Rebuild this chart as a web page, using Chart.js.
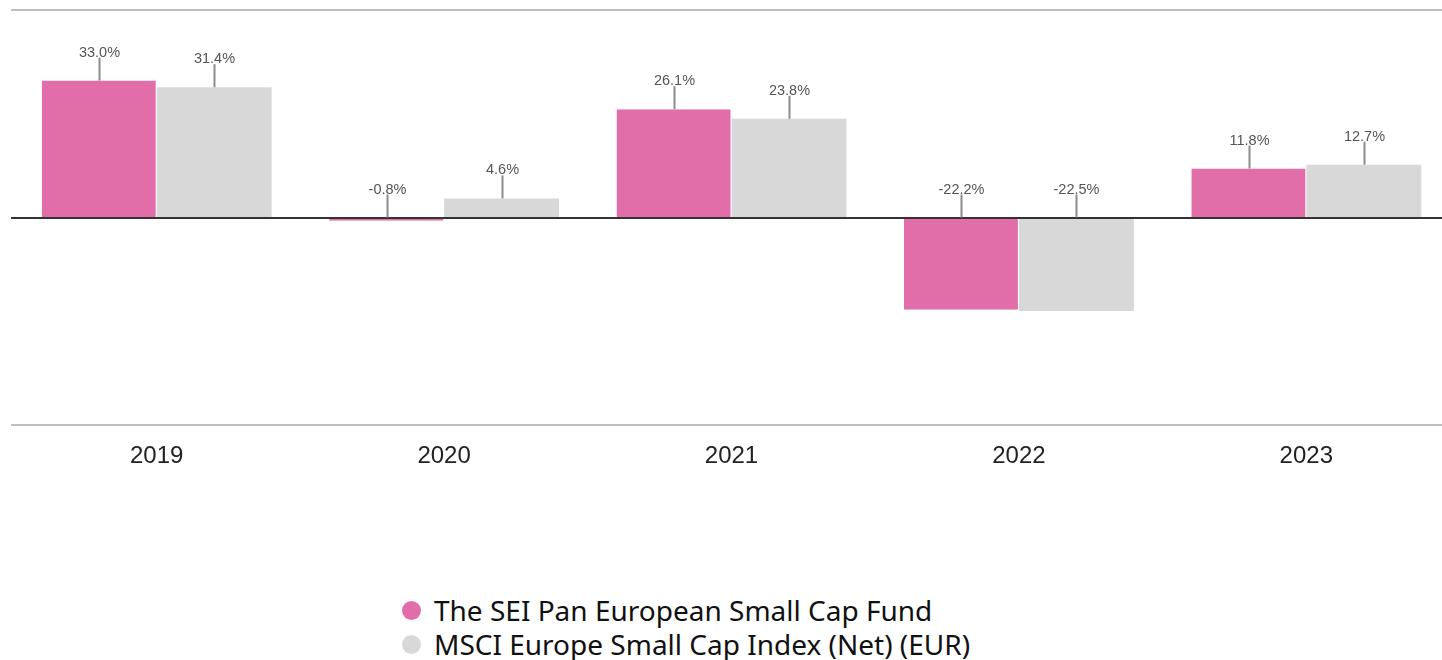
<!DOCTYPE html>
<html>
<head>
<meta charset="utf-8">
<script src="https://cdn.jsdelivr.net/npm/chart.js@4"></script>
<style>
  html, body { margin: 0; padding: 0; background: #fff; overflow: hidden; width: 1442px; height: 660px; }
  #wrap { position: absolute; left: 0; top: 0; width: 1452px; height: 480px; }
  #legend { position: absolute; left: 402px; top: 593px; font-family: "Noto Sans", sans-serif; font-size: 28px; color: #111; line-height: 34px; }
  #legend .item { display: flex; align-items: center; white-space: nowrap; }
  #legend .dot { width: 19px; height: 19px; border-radius: 50%; margin-right: 13px; flex: none; }
</style>
</head>
<body>
<div id="wrap"><canvas id="c" width="1452" height="480"></canvas></div>
<div id="legend"></div>
<script>
const categories = ["2019", "2020", "2021", "2022", "2023"];
const fundName = "The SEI Pan European Small Cap Fund";
const indexName = "MSCI Europe Small Cap Index (Net) (EUR)";
const fundValues = [33.0, -0.8, 26.1, -22.2, 11.8];
const indexValues = [31.4, 4.6, 23.8, -22.5, 12.7];
const fundColor = "#E16EA9";
const indexColor = "#D8D8D8";

const framePlugin = {
  id: "frame",
  beforeDatasetsDraw(chart) {
    const { ctx, chartArea } = chart;
    ctx.save();
    ctx.strokeStyle = "#c0c0c0";
    ctx.lineWidth = 2;
    ctx.beginPath();
    ctx.moveTo(11, chartArea.top); ctx.lineTo(1442, chartArea.top);
    ctx.moveTo(11, chartArea.bottom); ctx.lineTo(1442, chartArea.bottom);
    ctx.stroke();
    ctx.restore();
  },
  afterDatasetsDraw(chart) {
    const { ctx } = chart;
    const y = chart.scales.y;
    const y0 = Math.round(y.getPixelForValue(0));
    ctx.save();
    ctx.strokeStyle = "#333333";
    ctx.lineWidth = 2;
    ctx.beginPath();
    ctx.moveTo(11, y0); ctx.lineTo(1442, y0);
    ctx.stroke();
    chart.data.datasets.forEach((ds, di) => {
      const meta = chart.getDatasetMeta(di);
      meta.data.forEach((el, i) => {
        const v = ds.data[i];
        const start = y.getPixelForValue(Math.max(v, 0));
        const x = Math.round(el.x) + 0.5;
        const top = start - 23;
        ctx.strokeStyle = "#8c8c8c";
        ctx.lineWidth = 2;
        ctx.beginPath();
        ctx.moveTo(x, start); ctx.lineTo(x, top);
        ctx.stroke();
        ctx.fillStyle = "#555555";
        ctx.font = "14.5px 'Liberation Sans', Arial, sans-serif";
        ctx.textAlign = "center";
        ctx.textBaseline = "alphabetic";
        ctx.fillText(v.toFixed(1) + "%", x, top - 1);
      });
    });
    ctx.restore();
  }
};

new Chart(document.getElementById("c"), {
  type: "bar",
  data: {
    labels: categories,
    datasets: [
      { label: fundName, data: fundValues, backgroundColor: fundColor,
        borderColor: "#ffffff", borderWidth: { top: 0, bottom: 0, left: 0, right: 1 }, borderSkipped: false,
        categoryPercentage: 0.8, barPercentage: 1.0 },
      { label: indexName, data: indexValues, backgroundColor: indexColor,
        borderWidth: 0, categoryPercentage: 0.8, barPercentage: 1.0 }
    ]
  },
  options: {
    responsive: false,
    animation: false,
    devicePixelRatio: 1,
    layout: { padding: { left: 13, right: 2, top: 10, bottom: 0 } },
    plugins: { legend: { display: false }, tooltip: { enabled: false } },
    scales: {
      y: { display: false, min: -50, max: 50 },
      x: {
        grid: { display: false, drawTicks: false },
        border: { display: false },
        ticks: { color: "#222222", font: { family: "'Liberation Sans', Arial, sans-serif", size: 24 }, padding: 17 },
        afterFit(scale) { scale.height = 55; }
      }
    }
  },
  plugins: [framePlugin]
});

const legend = document.getElementById("legend");
[[fundName, fundColor], [indexName, indexColor]].forEach(([name, color]) => {
  const item = document.createElement("div");
  item.className = "item";
  const dot = document.createElement("span");
  dot.className = "dot";
  dot.style.background = color;
  const txt = document.createElement("span");
  txt.textContent = name;
  item.appendChild(dot); item.appendChild(txt);
  legend.appendChild(item);
});
</script>
</body>
</html>
